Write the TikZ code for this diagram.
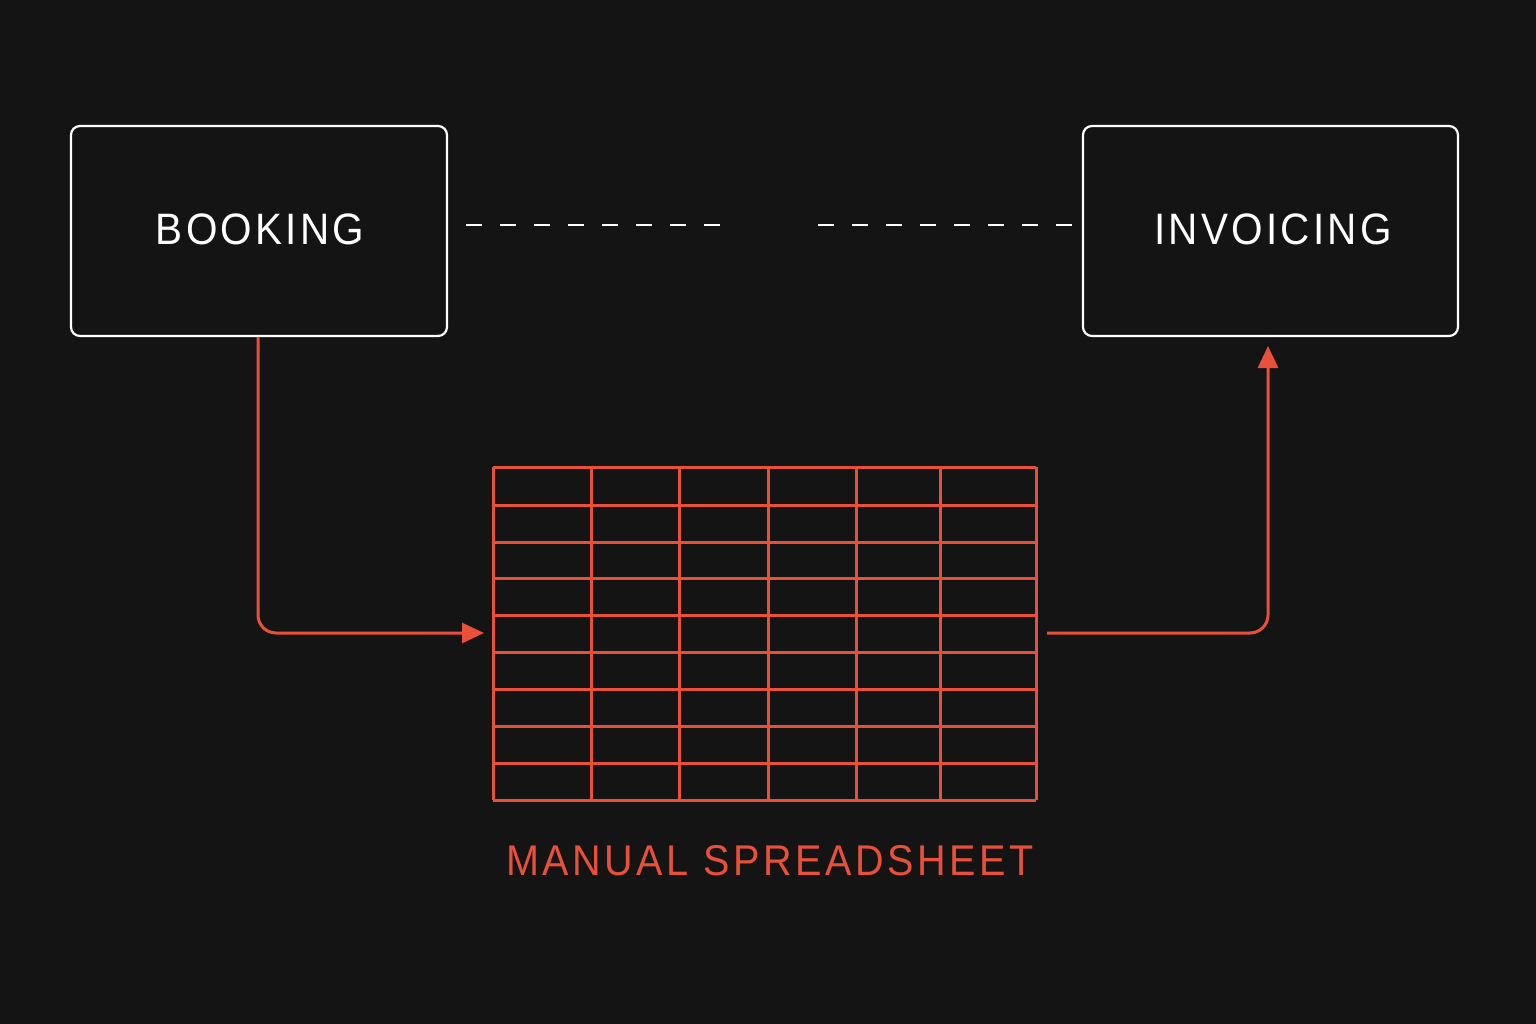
\documentclass[tikz,border=0pt]{standalone}
\usepackage{fontspec}
\setmainfont{Liberation Sans}
\usetikzlibrary{arrows.meta}
\definecolor{bg}{HTML}{141414}
\definecolor{rd}{HTML}{E8503A}
\begin{document}
\begin{tikzpicture}[x=1pt,y=-1pt,
  box/.style={draw=white,line width=2.2pt,rounded corners=9pt,fill=bg},
  lbl/.style={text=white,font=\fontsize{44}{44}\selectfont\addfontfeature{LetterSpace=8}},
  rl/.style={rd,line width=3pt},
  tip/.style={-{Triangle[length=22pt,width=20pt]}}]
\fill[bg] (0,0) rectangle (1536,1024);
\useasboundingbox (0,0) rectangle (1536,1024);
\draw[box] (71,126) rectangle (447,336);
\draw[box] (1083,126) rectangle (1458,336);
\node[lbl,xscale=0.92] (b) at (260,229) {BOOKING};
\node[lbl,xscale=0.92] (i) at (1273,229) {INVOICING};
\coordinate (bb) at (258,337);
\coordinate (ib) at (1268,346);
\coordinate (d1) at (466,225); \coordinate (d2) at (724,225);
\coordinate (d3) at (818,225); \coordinate (d4) at (1076,225);
\draw[white,line width=2.4pt,dash pattern=on 16pt off 18pt] (d1)--(d2);
\draw[white,line width=2.4pt,dash pattern=on 16pt off 18pt] (d3)--(d4);
% grid
\foreach \x in {493,591,679,768,856,940,1036} \draw[rl] (\x,467)--(\x,800);
\foreach \y in {467,505,542,578,615,652,689,726,763,800} \draw[rl] (493,\y)--(1036,\y);
\coordinate (gl) at (484,633);
\coordinate (gr) at (1047,633);
\draw[rl,tip,rounded corners=18pt] (bb) |- (gl);
\draw[rl,tip,rounded corners=18pt] (gr) -| (ib);
\node[text=rd,xscale=0.92,font=\fontsize{43}{43}\selectfont\addfontfeature{LetterSpace=9}] (m) at (770,861) {MANUAL SPREADSHEET};
\end{tikzpicture}
\end{document}
